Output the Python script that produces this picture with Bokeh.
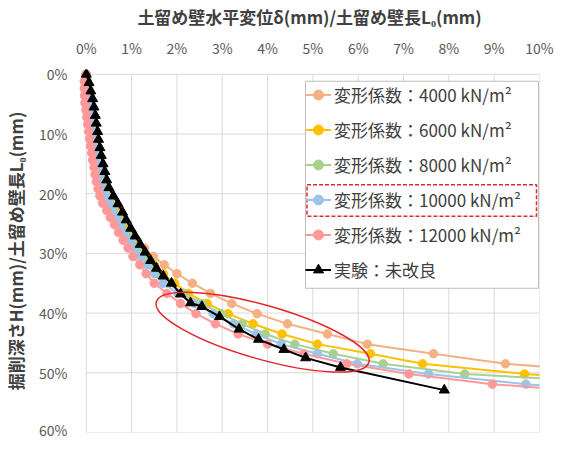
from bokeh.plotting import figure
from bokeh.models import (Range1d, FixedTicker, Legend, LegendItem,
                          ColumnDataSource, PrintfTickFormatter)
from bokeh.embed import file_html
from bokeh.resources import INLINE

# ---------------- data ----------------
X_TICKS = [0, 1, 2, 3, 4, 5, 6, 7, 8, 9, 10]
Y_TICKS = [0, 10, 20, 30, 40, 50, 60]

SERIES_NAMES = ["変形係数：4000 kN/m²", "変形係数：6000 kN/m²", "変形係数：8000 kN/m²",
                "変形係数：10000 kN/m²", "変形係数：12000 kN/m²"]
EXP_NAME = "実験：未改良"

# depth H/L0 (%) of the analysis points
DEPTH = [0, 1.2, 2.4, 3.6, 4.8, 6.0, 7.2, 8.4, 9.6, 10.8, 12.0, 13.2, 14.4, 15.6, 16.8,
         18.0, 19.2, 20.4, 21.6, 22.8, 24.0, 25.2, 26.5, 27.8, 29.1, 30.5, 31.9, 33.4,
         35.0, 36.7, 38.4, 40.1, 41.8, 43.5, 45.2, 46.8, 48.5, 50.2, 51.9, 53.6]

# wall displacement delta/L0 (%)
X_4000 = [0, 0.02, 0.04, 0.06, 0.08, 0.10, 0.12, 0.15, 0.17, 0.19, 0.22, 0.25, 0.28, 0.31,
          0.35, 0.40, 0.45, 0.51, 0.58, 0.66, 0.75, 0.86, 0.98, 1.12, 1.28, 1.48, 1.72,
          2.00, 2.34, 2.74, 3.21, 3.77, 4.44, 5.32, 6.20, 7.66, 9.25, 12.3]
X_6000 = [0, 0.02, 0.04, 0.06, 0.08, 0.10, 0.12, 0.14, 0.16, 0.18, 0.21, 0.24, 0.27, 0.30,
          0.34, 0.38, 0.43, 0.49, 0.56, 0.64, 0.73, 0.83, 0.94, 1.06, 1.19, 1.34, 1.50,
          1.70, 1.95, 2.25, 2.67, 3.13, 3.68, 4.32, 5.10, 6.27, 7.42, 9.67, 12.8]
X_8000 = [0, 0.01, 0.03, 0.05, 0.07, 0.09, 0.11, 0.13, 0.15, 0.17, 0.19, 0.22, 0.25, 0.28,
          0.31, 0.35, 0.40, 0.46, 0.53, 0.61, 0.70, 0.79, 0.90, 1.01, 1.13, 1.27, 1.42,
          1.59, 1.80, 2.15, 2.55, 2.98, 3.44, 3.95, 4.60, 5.45, 6.55, 8.35, 12.3]
X_10000 = [0, 0.0, 0.01, 0.03, 0.05, 0.07, 0.09, 0.11, 0.13, 0.15, 0.17, 0.19, 0.22, 0.25,
           0.28, 0.32, 0.37, 0.43, 0.50, 0.58, 0.66, 0.75, 0.85, 0.96, 1.07, 1.20, 1.34,
           1.50, 1.70, 2.02, 2.40, 2.80, 3.25, 3.75, 4.30, 5.10, 5.98, 7.55, 9.70, 12.5]
X_12000 = [0, -0.05, -0.05, -0.04, -0.03, -0.01, 0.01, 0.03, 0.05, 0.07, 0.09, 0.12, 0.14,
           0.17, 0.19, 0.22, 0.26, 0.30, 0.36, 0.45, 0.53, 0.62, 0.71, 0.81, 0.92, 1.03,
           1.18, 1.32, 1.50, 1.78, 2.08, 2.42, 2.85, 3.35, 4.00, 4.80, 5.75, 7.12, 8.96, 12.0]

# experiment (unimproved)
EXP_DEPTH = [0, 1.4, 2.8, 4.1, 5.5, 6.9, 8.2, 9.6, 10.9, 12.3, 13.6, 15.0, 16.3, 17.7, 19.0,
             20.4, 21.7, 23.1, 24.4, 25.8, 27.1, 28.5, 29.8, 31.2, 32.5, 33.8, 35.0, 36.8,
             38.3, 38.9, 40.6, 42.7, 44.4, 46.1, 47.5, 49.1, 52.9]
EXP_X = [0, 0.06, 0.10, 0.14, 0.17, 0.20, 0.22, 0.25, 0.27, 0.30, 0.33, 0.37, 0.41, 0.45,
         0.50, 0.60, 0.70, 0.80, 0.88, 0.98, 1.08, 1.19, 1.30, 1.42, 1.55, 1.70, 1.88, 2.08,
         2.30, 2.55, 2.94, 3.37, 3.80, 4.36, 4.84, 5.61, 7.90]

# ---------------- layout / style ----------------
W, H = 559, 439
FL, FR, FT, FB = 79, 539, 62, 432          # frame edges in canvas px
XMIN, XMAX = -0.15, 10
YTOP, YBOT = -0.8, 60
COLORS = ["#F4B183", "#FFC000", "#A9D18E", "#9DC3E6", "#FF9999"]
GRID = "#D9D9D9"
RED = "#E3262B"
CJK = "Noto Sans CJK JP"

LEG_L, LEG_T, LEG_R = 305, 74, 538         # legend frame (canvas px)
LEG_PAD, ITEM_H, ITEM_SP = 4, 25, 10
LEG_B = LEG_T + 2 * LEG_PAD + 6 * ITEM_H + 5 * ITEM_SP + 3

# red ellipse (highlight) centre in data units, size in px
ELL_X, ELL_Y, ELL_W, ELL_H, ELL_ANGLE = 3.89, 43.2, 221, 54, -0.2775


def dx(cx):
    return XMIN + (cx - FL) * (XMAX - XMIN) / (FR - FL)


def dy(cy):
    return YTOP + (cy - FT) * (YBOT - YTOP) / (FB - FT)


p = figure(width=W, height=H, output_backend="svg", toolbar_location=None, title=None,
           x_range=Range1d(XMIN, XMAX), y_range=Range1d(YBOT, YTOP),
           x_axis_location="above",
           min_border_left=FL, min_border_right=W - FR,
           min_border_top=FT, min_border_bottom=H - FB)
p.outline_line_color = None
p.xgrid.visible = False
p.ygrid.visible = False
p.background_fill_color = "white"
p.border_fill_color = "white"

# grid lines spanning only the 0..10 / 0..60 area
p.segment(x0=X_TICKS, y0=[Y_TICKS[0]] * len(X_TICKS), x1=X_TICKS,
          y1=[Y_TICKS[-1]] * len(X_TICKS), line_color=GRID, line_width=1)
p.segment(x0=[X_TICKS[0]] * len(Y_TICKS), y0=Y_TICKS, x1=[X_TICKS[-1]] * len(Y_TICKS),
          y1=Y_TICKS, line_color=GRID, line_width=1)

# legend frame (white box with grey border) and red dashed highlight of the 4th entry
p.quad(left=[dx(LEG_L)], right=[dx(LEG_R)], top=[dy(LEG_T)], bottom=[dy(LEG_B)],
       fill_color="white", line_color="#BFBFBF", line_width=1)
c4 = LEG_T + LEG_PAD + 3 * (ITEM_H + ITEM_SP) + ITEM_H / 2
p.quad(left=[dx(LEG_L + 1.5)], right=[dx(LEG_R - 2)], top=[dy(c4 - 16)],
       bottom=[dy(c4 + 16)], fill_color=None, line_color=RED, line_width=1.5,
       line_dash="4 2")

for ax, ticks in ((p.xaxis[0], X_TICKS), (p.yaxis[0], Y_TICKS)):
    ax.ticker = FixedTicker(ticks=ticks)
    ax.formatter = PrintfTickFormatter(format="%d%%")
    ax.axis_line_color = None
    ax.major_tick_line_color = None
    ax.minor_tick_line_color = None
    ax.major_label_text_font = CJK
    ax.major_label_text_font_size = "14px"
    ax.major_label_text_color = "#595959"
    ax.axis_label_text_font = CJK
    ax.axis_label_text_font_size = "17px"
    ax.axis_label_text_font_style = "bold"
    ax.axis_label_text_color = "#404040"

p.xaxis[0].axis_label = "土留め壁水平変位δ(mm)/土留め壁長L₀(mm)"
p.xaxis[0].major_label_standoff = 6
p.xaxis[0].axis_label_standoff = 6
p.yaxis[0].axis_label = "掘削深さH(mm)/土留め壁長L₀(mm)"
p.yaxis[0].major_label_standoff = 6
p.yaxis[0].axis_label_standoff = 8

items = []
for name, xs, col in zip(SERIES_NAMES, [X_4000, X_6000, X_8000, X_10000, X_12000], COLORS):
    src = ColumnDataSource(dict(x=xs, y=DEPTH[:len(xs)]))
    ln = p.line("x", "y", source=src, line_color=col, line_width=2)
    sc = p.scatter("x", "y", source=src, marker="circle", size=8.5,
                   fill_color=col, line_color=col)
    items.append(LegendItem(label=name, renderers=[ln, sc]))

src_e = ColumnDataSource(dict(x=EXP_X, y=EXP_DEPTH))
ln = p.line("x", "y", source=src_e, line_color="black", line_width=2)
sc = p.scatter("x", "y", source=src_e, marker="triangle", size=10,
               fill_color="black", line_color="black")
items.append(LegendItem(label=EXP_NAME, renderers=[ln, sc]))

# red ellipse annotation
p.ellipse(x=[ELL_X], y=[ELL_Y], width=[ELL_W], height=[ELL_H], angle=[ELL_ANGLE],
          width_units="screen", height_units="screen",
          fill_color=None, line_color=RED, line_width=1.5)

legend = Legend(items=items, location=(LEG_L - FL, FB - (LEG_B - 3)),
                border_line_color=None, background_fill_alpha=0.0,
                padding=LEG_PAD, spacing=ITEM_SP, margin=0,
                glyph_width=26, glyph_height=ITEM_H, label_height=ITEM_H,
                label_standoff=3,
                label_text_font=CJK, label_text_font_size="17px",
                label_text_color="#404040")
p.add_layout(legend)

open("out.html", "w").write(file_html(p, INLINE))
